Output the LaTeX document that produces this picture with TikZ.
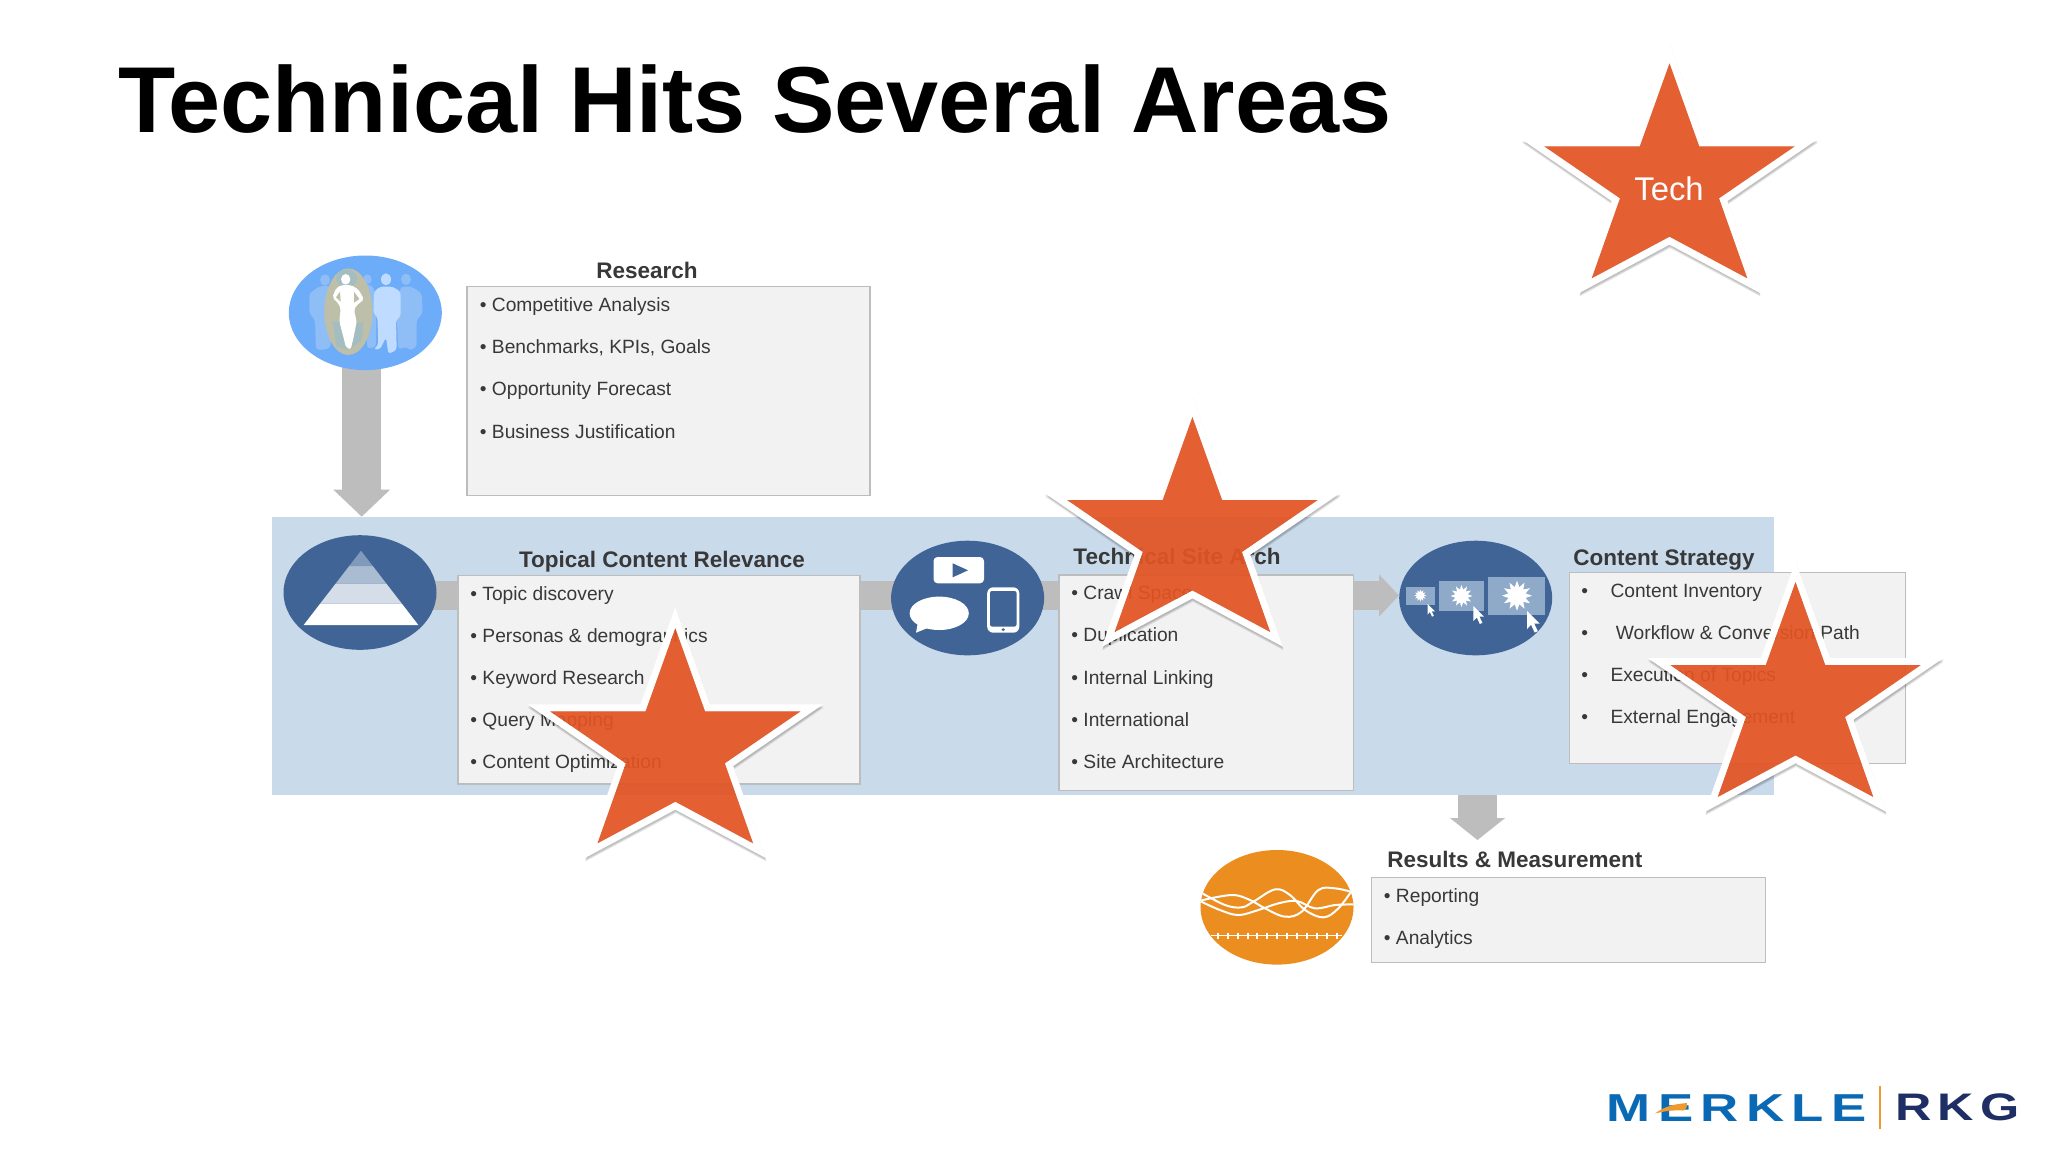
\documentclass[tikz,border=0pt]{standalone}
\usepackage{fontspec}
\setmainfont{Liberation Sans}
\usetikzlibrary{shapes.geometric,arrows.meta}
\definecolor{bandblue}{HTML}{C9DAEB}
\definecolor{darkblue}{HTML}{3F6495}
\definecolor{skyblue}{HTML}{6CACF8}
\definecolor{boxfill}{HTML}{F2F2F2}
\definecolor{boxline}{HTML}{BDBDBD}
\definecolor{arrowgray}{HTML}{BDBDBD}
\definecolor{txt}{HTML}{383838}
\definecolor{starorange}{HTML}{E25423}
\definecolor{ambercol}{HTML}{EC8E1F}
\definecolor{merkleblue}{HTML}{0A69B4}
\definecolor{rkgnavy}{HTML}{1F2F66}
\definecolor{logoorange}{HTML}{EE9A2E}
\definecolor{iconblue}{HTML}{8FA9C9}
\definecolor{tierA}{HTML}{7F9ABA}
\definecolor{tierB}{HTML}{A9BCD1}
\definecolor{tierC}{HTML}{D4DDE8}
\definecolor{crowdA}{HTML}{8FBDF5}
\definecolor{crowdB}{HTML}{BFDBFF}
\definecolor{halo}{HTML}{BDBFA8}
\definecolor{haloin}{HTML}{A3BDC0}
\tikzset{
  bandst/.style={rectangle,fill=bandblue,inner sep=0,outer sep=0},
  listbox/.style={rectangle,fill=boxfill,draw=boxline,line width=.75pt,inner sep=0,outer sep=0},
  icon/.style={ellipse,inner sep=0,outer sep=0,minimum width=76.5pt,minimum height=57.3pt},
  sect/.style={font=\fontsize{11.25}{13}\selectfont\bfseries,text=txt,inner sep=0},
  item/.style={font=\fontsize{9.6}{12}\selectfont,text=txt,inner sep=0,anchor=west,text height=7pt,text depth=2pt,yshift=-.7pt},
  blockline/.style={draw=arrowgray,line width=14.5pt},
  blockarrow/.style={draw=arrowgray,line width=19.5pt,-{Triangle[length=13.5pt,width=27.5pt]}},
  blockarrowb/.style={draw=arrowgray,line width=19.5pt,-{Triangle[length=11pt,width=27pt]}},
  blockarrowc/.style={draw=arrowgray,line width=14.5pt,-{Triangle[length=10pt,width=20.5pt]}},
}
\newcommand{\starline}{(0,0) -- (29.7,83) -- (125.3,83) -- (49.5,135) -- (77.8,215) -- (0,173.4) -- (-77.8,215) -- (-49.5,135) -- (-125.3,83) -- (-29.7,83) -- cycle}
\newcommand{\orangestar}[2]{%
  \begin{scope}[shift={(#1,#2)}]
    \begin{scope}[even odd rule]
      \clip (-300,-300) rectangle (300,500) \starline;
      \foreach \sy in {3.5,2.5,1.5}{
        \draw[black,opacity=.09,line width=7pt,line join=miter,shift={(.5,\sy)}] \starline;
      }
      \draw[white,line width=7pt,line join=miter] \starline;
    \end{scope}
    \fill[starorange,fill opacity=.93] \starline;
  \end{scope}}
\newcommand{\pointer}[3]{%
  \fill[white,shift={(#1,#2)},scale=#3] (0,0) -- (0,15) -- (3.4,11.5) -- (6.4,18) -- (9,16.8) -- (6,10.5) -- (10.5,10.5) -- cycle;}
\begin{document}
\begin{tikzpicture}[x=.5pt,y=-.5pt]
\useasboundingbox (0,0) rectangle (2048,1152);
\fill[white] (0,0) rectangle (2048,1152);

% title
\node[font=\fontsize{46.8}{50}\selectfont\bfseries,text=black,inner sep=0,anchor=base west] (title) at (118,132) {Technical Hits Several Areas};

% band
\node[bandst,minimum width=751.2pt,minimum height=139.15pt] (band) at (1022.7,655.85) {};

% connector ends
\coordinate (topicalout) at (430,595.5);
\coordinate (techin) at (900,595.5);
\coordinate (techout) at (1030,595.5);
\coordinate (stratin) at (1399,595.5);
\coordinate (researchout) at (361.7,362);
\coordinate (bandin) at (361.7,516.7);
\coordinate (bandout) at (1477.5,795);
\coordinate (resultsin) at (1477.5,840);

\draw[blockarrow] (researchout) -- (bandin);
\draw[blockline] (topicalout) -- (techin);
\draw[blockarrowc] (techout) -- (stratin);
\draw[blockarrowb] (bandout) -- (resultsin);

% icon ellipses
\node[icon,fill=skyblue] (research) at (365.3,312.8) {};
\node[icon,fill=darkblue] (topical) at (360,592.5) {};
\node[icon,fill=darkblue] (tech) at (967.6,598) {};
\node[icon,fill=darkblue] (strategy) at (1475.7,598) {};
\node[icon,fill=ambercol] (results) at (1277,907.3) {};

% research crowd icon
\begin{scope}[shift={(280,250)},x=.1667pt,y=-.1667pt]
  \fill[crowdA] (135,90) ellipse (15 and 17);
  \fill[crowdA,rounded corners=1.5pt] (120,108) -- (150,108) -- (172,130) -- (172,200) -- (160,210) -- (150,295) -- (130,298) -- (125,300) -- (108,298) -- (105,210) -- (88,190) -- (88,130) -- cycle;
  \fill[crowdA] (262,88) ellipse (13 and 15);
  \fill[crowdA,rounded corners=1.5pt] (250,105) -- (275,105) -- (288,130) -- (288,290) -- (262,296) -- (255,200) -- cycle;
  \fill[crowdA] (378,88) ellipse (15 and 17);
  \fill[crowdA,rounded corners=1.5pt] (362,110) -- (395,110) -- (425,130) -- (428,190) -- (410,210) -- (410,290) -- (390,302) -- (380,290) -- (355,298) -- (350,200) -- cycle;
  \fill[crowdB] (318,88) ellipse (15 and 18);
  \fill[crowdB,rounded corners=1.5pt] (300,110) -- (338,110) -- (362,125) -- (362,200) -- (348,210) -- (350,300) -- (325,312) -- (318,262) -- (300,298) -- (280,298) -- (295,285) -- (292,200) -- (280,190) -- (282,125) -- cycle;
  \fill[halo] (205,185) ellipse (72 and 130);
  \fill[haloin] (200,85) ellipse (32 and 26);
  \fill[haloin] (158,215) -- (178,215) -- (198,292) -- (205,300) -- (170,290) -- cycle;
  \fill[haloin] (228,220) -- (250,215) -- (245,270) -- (212,298) -- cycle;
  \fill[white] (197,88) ellipse (14 and 16);
  \fill[white,rounded corners=1pt] (185,105) -- (212,105) -- (235,118) -- (252,148) -- (228,168) -- (222,180) -- (230,215) -- (220,265) -- (212,298) -- (198,292) -- (190,260) -- (178,215) -- (182,175) -- (175,160) -- (157,142) -- (168,115) -- cycle;
  \fill[halo] (180,125) -- (168,142) -- (182,155) -- cycle;
  \fill[halo] (222,125) -- (238,147) -- (222,158) -- cycle;
\end{scope}

% pyramid
\fill[white] (320.4,603.3) -- (401.6,603.3) -- (418.3,625) -- (303.7,625) -- cycle;
\fill[tierC] (335.9,583.3) -- (386.1,583.3) -- (401.6,603.3) -- (320.4,603.3) -- cycle;
\fill[tierB] (349.2,566) -- (372.8,566) -- (386.1,583.3) -- (335.9,583.3) -- cycle;
\fill[tierA] (361,550.7) -- (372.8,566) -- (349.2,566) -- cycle;

% media icon
\fill[white,rounded corners=2pt] (933.5,557) rectangle (984,583.3);
\fill[darkblue] (952.7,563.3) -- (968,570.3) -- (952.7,577.3) -- cycle;
\fill[white] (939.2,613.3) ellipse (29.6 and 16.7);
\fill[white] (918,622) -- (916,632.7) -- (930,627) -- cycle;
\fill[white,rounded corners=3pt] (987.2,587.3) rectangle (1019.3,632.7);
\fill[darkblue,rounded corners=1pt] (990,591) rectangle (1016.5,626.5);
\fill[darkblue] (1003.2,629.6) ellipse (1.8 and 1.5);

% strategy icon
\fill[iconblue] (1406,586.7) rectangle (1434.9,605);
\fill[iconblue] (1438.5,580.7) rectangle (1484.4,611);
\fill[iconblue] (1488,577) rectangle (1545,615);
\node[star,star points=12,star point ratio=1.7,fill=white,inner sep=0,minimum size=6pt] (burstA) at (1420.3,595.5) {};
\node[star,star points=12,star point ratio=1.7,fill=white,inner sep=0,minimum size=11pt] (burstB) at (1461.5,596) {};
\node[star,star points=12,star point ratio=1.7,fill=white,inner sep=0,minimum size=15pt] (burstC) at (1517,595.7) {};
\pointer{1427.5}{604}{.7}
\pointer{1473.4}{606}{1}
\pointer{1527}{611}{1.2}

% results icon
\begin{scope}
  \clip (1277,907.3) ellipse (76.5 and 57.3);
  \begin{scope}[shift={(1195,845)},x=.1667pt,y=-.1667pt]
    \draw[white,line width=1pt] plot[smooth,tension=.6] coordinates {(15,141) (90,180) (140,187) (175,170) (240,133) (285,150) (330,195) (385,217) (430,190) (475,130)};
    \draw[white,line width=1pt] plot[smooth,tension=.6] coordinates {(15,168) (75,195) (130,210) (190,195) (250,175) (305,168) (360,190) (420,180) (480,178)};
    \draw[white,line width=1pt] plot[smooth,tension=.6] coordinates {(15,167) (110,150) (165,165) (210,190) (270,215) (320,200) (370,135) (420,130) (475,142)};
    \draw[white,line width=.6pt] (48,272) -- (440,272);
    \foreach \tx in {68,98,128,158,187,217,247,277,307,337,367,397,427}{
      \draw[white,line width=.9pt] (\tx,263) -- (\tx,281);
    }
  \end{scope}
\end{scope}

% boxes
\node[listbox,minimum width=201.5pt,minimum height=104.5pt] (boxR) at (668.5,391.2) {};
\node[listbox,minimum width=201pt,minimum height=104.35pt] (boxT) at (659,679.65) {};
\node[listbox,minimum width=147.4pt,minimum height=107.65pt] (boxS) at (1206.2,682.65) {};
\node[listbox,minimum width=168.2pt,minimum height=95.3pt] (boxC) at (1737.5,668) {};
\node[listbox,minimum width=197.1pt,minimum height=42.5pt] (boxM) at (1568.4,919.8) {};

% section titles
\node[sect] (headR) at (647,270.7) {Research};
\node[sect] (headT) at (662,561.5) {Topical Content Relevance};
\node[sect,anchor=west] (headS) at (1073,556) {Technical Site Arch};
\node[sect,anchor=west] (headC) at (1573,559.8) {Content Strategy};
\node[sect,anchor=west] (headM) at (1387,859.3) {Results \& Measurement};

% items
\node[item] (r1) at (479.5,305) {• Competitive Analysis};
\node[item] (r2) at (479.5,347) {• Benchmarks, KPIs, Goals};
\node[item] (r3) at (479.5,389.3) {• Opportunity Forecast};
\node[item] (r4) at (479.5,431.7) {• Business Justification};

\node[item] (t1) at (470,593.7) {• Topic discovery};
\node[item] (t2) at (470,635.7) {• Personas \& demographics};
\node[item] (t3) at (470,677.7) {• Keyword Research};
\node[item] (t4) at (470,720.3) {• Query Mapping};
\node[item] (t5) at (470,762.3) {• Content Optimization};

\node[item] (s1) at (1071,593.3) {• Crawl Space};
\node[item] (s2) at (1071,635.3) {• Duplication};
\node[item] (s3) at (1071,677.7) {• Internal Linking};
\node[item] (s4) at (1071,720) {• International};
\node[item] (s5) at (1071,762.3) {• Site Architecture};

\node[item] (c1) at (1581,591) {•\hspace{11.2pt}Content Inventory};
\node[item] (c2) at (1581,633.3) {•\hspace{13.9pt}Workflow \& Conversion Path};
\node[item] (c3) at (1581,675.3) {•\hspace{11.2pt}Execution of Topics};
\node[item] (c4) at (1581,717.3) {•\hspace{11.2pt}External Engagement};

\node[item] (m1) at (1383.5,896) {• Reporting};
\node[item] (m2) at (1383.5,937.7) {• Analytics};

% stars
\orangestar{1669.5}{63.3}
\orangestar{675.3}{628.3}
\orangestar{1192.4}{417}
\orangestar{1795.5}{582}
\node[font=\fontsize{16.4}{18}\selectfont,text=white,inner sep=0] (techlabel) at (1669,188.5) {Tech};

% logo
\node[inner sep=0,anchor=west,text=merkleblue] (merkle) at (1606.5,1107.6) {\resizebox{130pt}{13.4pt}{\fontspec{Liberation Sans}[LetterSpace=14]\bfseries MERKLE}};
\node[inner sep=0,anchor=west,text=rkgnavy] (rkg) at (1895,1107.6) {\resizebox{62pt}{13.4pt}{\fontspec{Liberation Sans}[LetterSpace=12]\bfseries RKG}};
\fill[logoorange] (1655,1113.5) .. controls (1665,1106) and (1675,1104) .. (1687,1103) .. controls (1687,1108) and (1686,1110) .. (1683,1110.5) .. controls (1672,1110) and (1665,1111) .. (1655,1113.5) -- cycle;
\draw[logoorange,line width=.6pt] (1880,1085.7) -- (1880,1129.3);
\end{tikzpicture}
\end{document}
